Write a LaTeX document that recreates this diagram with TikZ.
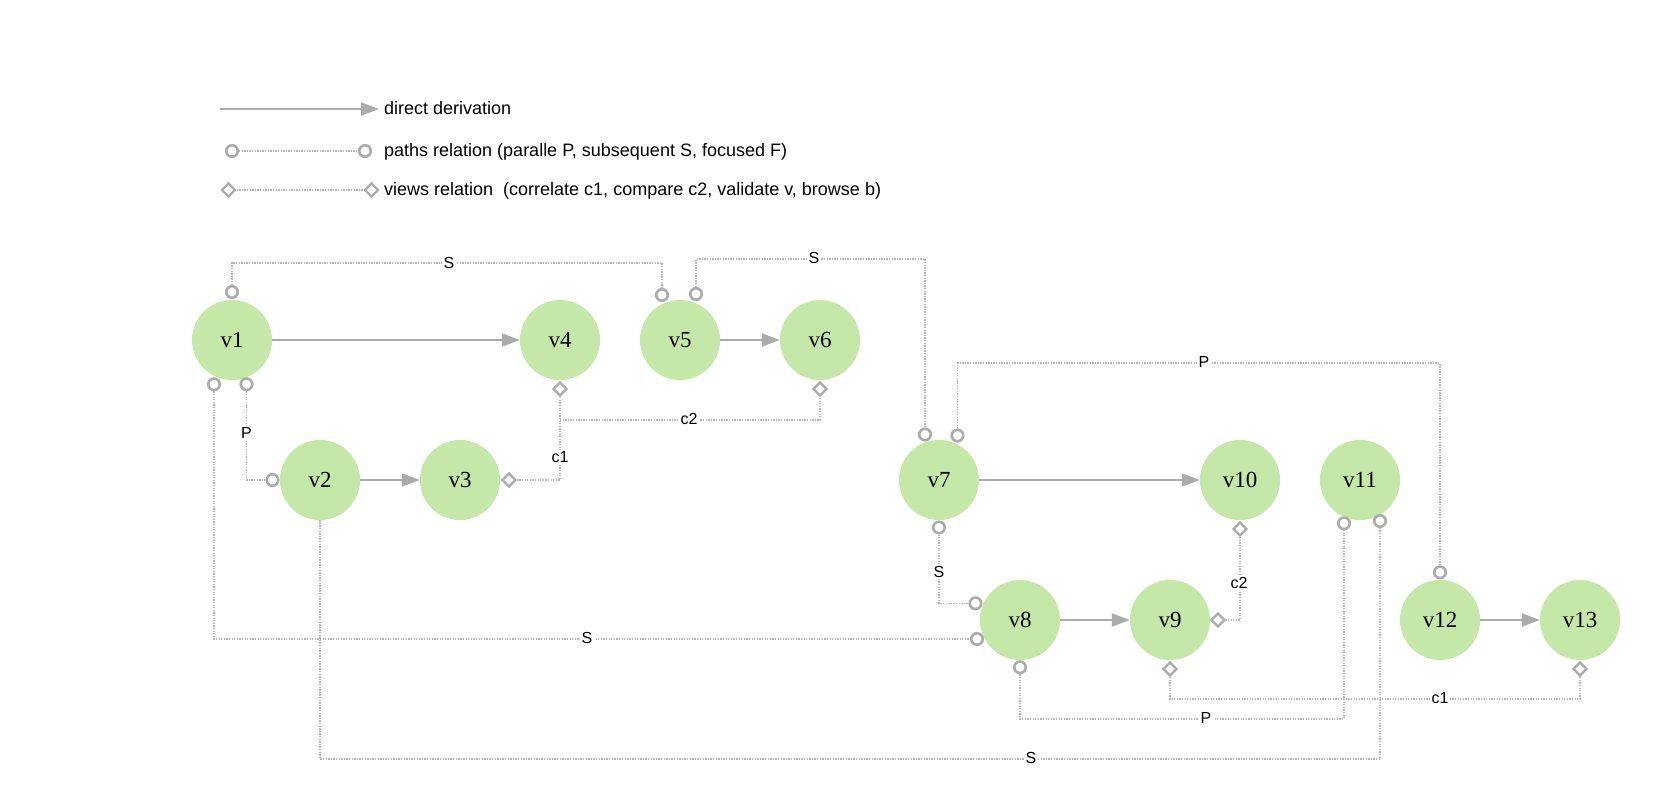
\documentclass[tikz,border=0pt]{standalone}
\usepackage{fontspec}
\setmainfont{Liberation Sans}
\newfontfamily\nodefont{Liberation Serif}
\usetikzlibrary{arrows.meta,shapes.geometric,calc}
\definecolor{vgreen}{HTML}{C5E8A9}
\definecolor{lgray}{HTML}{ABABAB}
\definecolor{dgray}{HTML}{B4B4B4}
\begin{document}
\begin{tikzpicture}[x=1pt,y=-1pt,
 vnode/.style={circle,fill=vgreen,minimum size=80pt,inner sep=0pt,font=\nodefont\fontsize{23}{23}\selectfont},
 deriv/.style={draw=lgray,line width=2pt,-{Triangle[length=18pt,width=13pt]}},
 pc/.style={circle,draw=lgray,fill=white,line width=2.6pt,minimum size=11.5pt,inner sep=0pt},
 dm/.style={diamond,draw=lgray,fill=white,line width=2.3pt,minimum size=14pt,inner sep=0pt},
 rel/.style={draw=dgray,line width=1.3pt,dash pattern=on 1.3pt off 1.3pt},
 lbl/.style={fill=white,inner sep=1.5pt,font=\fontsize{16}{16}\selectfont},
 leg/.style={anchor=base west,inner sep=0pt,font=\fontsize{18}{18}\selectfont}]
\useasboundingbox[fill=white] (0,0) rectangle (1660,811);

% legend
\coordinate (la1) at (220,109);
\coordinate (la2) at (379,109);
\draw[deriv] (la1) -- (la2);
\node[leg] (t1) at (384,114.5) {direct derivation};
\node[pc] (lc1) at (232,151) {};
\node[pc] (lc2) at (365,151) {};
\draw[rel] (lc1) -- (lc2);
\node[leg] (t2) at (384,156.5) {paths relation (paralle P, subsequent S, focused F)};
\node[dm] (ld1) at (228.5,190) {};
\node[dm] (ld2) at (371.5,190) {};
\draw[rel] (ld1) -- (ld2);
\node[leg] (t3) at (384,195.5) {views relation~ (correlate c1, compare c2, validate v, browse b)};

% nodes
\node[vnode] (v1) at (232,340) {v1};
\node[vnode] (v4) at (560,340) {v4};
\node[vnode] (v5) at (680,340) {v5};
\node[vnode] (v6) at (820,340) {v6};
\node[vnode] (v2) at (320,480) {v2};
\node[vnode] (v3) at (460,480) {v3};
\node[vnode] (v7) at (939,480) {v7};
\node[vnode] (v10) at (1240,480) {v10};
\node[vnode] (v11) at (1360,480) {v11};
\node[vnode] (v8) at (1020,620) {v8};
\node[vnode] (v9) at (1170,620) {v9};
\node[vnode] (v12) at (1440,620) {v12};
\node[vnode] (v13) at (1580,620) {v13};

% direct derivations
\draw[deriv] (v1) -- (v4);
\draw[deriv] (v5) -- (v6);
\draw[deriv] (v2) -- (v3);
\draw[deriv] (v7) -- (v10);
\draw[deriv] (v8) -- (v9);
\draw[deriv] (v12) -- (v13);

% level coordinates
\coordinate (yA) at (0,263);
\coordinate (yB) at (0,259);
\coordinate (yC) at (0,363);
\coordinate (yD) at (0,420);
\coordinate (yI) at (0,699);
\coordinate (yJ) at (0,719);
\coordinate (yK) at (0,759);

% markers
\node[pc] (v1t) at ($(v1)+(0,-48)$) {};
\node[pc] (v1bl) at ($(v1)+(-18,44.3)$) {};
\node[pc] (v1br) at ($(v1)+(14.5,44.3)$) {};
\node[pc] (v2l) at ($(v2)+(-47.5,0)$) {};
\node[pc] (v5tl) at ($(v5)+(-18,-45)$) {};
\node[pc] (v5tr) at ($(v5)+(16,-46)$) {};
\node[pc] (v7tl) at ($(v7)+(-14,-45.5)$) {};
\node[pc] (v7tr) at ($(v7)+(18.5,-44.5)$) {};
\node[pc] (v7b) at ($(v7)+(0,47.5)$) {};
\node[pc] (v8tl) at ($(v8)+(-44.5,-16.7)$) {};
\node[pc] (v8bl) at ($(v8)+(-43,19)$) {};
\node[pc] (v8b) at ($(v8)+(0,47.3)$) {};
\node[pc] (v11bl) at ($(v11)+(-16,43.3)$) {};
\node[pc] (v11br) at ($(v11)+(20,41)$) {};
\node[pc] (v12t) at ($(v12)+(0,-47.7)$) {};
\node[dm] (v3r) at ($(v3)+(49,0)$) {};
\node[dm] (v4b) at ($(v4)+(0,49)$) {};
\node[dm] (v6b) at ($(v6)+(0,49)$) {};
\node[dm] (v9r) at ($(v9)+(48,0)$) {};
\node[dm] (v9b) at ($(v9)+(0,49)$) {};
\node[dm] (v10b) at ($(v10)+(0,49)$) {};
\node[dm] (v13b) at ($(v13)+(0,49)$) {};

% relations
\draw[rel] (v1t) -- (v1t |- yA) -- (v5tl |- yA) -- (v5tl) node[lbl] at (449,263) {S};
\draw[rel] (v5tr) -- (v5tr |- yB) -- (v7tl |- yB) -- (v7tl) node[lbl] at (814,258) {S};
\draw[rel] (v7tr) -- (v7tr |- yC) -- (v12t |- yC) -- (v12t) node[lbl] at (1204,362) {P};
\draw[rel] (v1br) -- (v1br |- v2l) -- (v2l) node[lbl] at (246.5,433) {P};
\draw[rel] (v4b) -- (v4b |- v3r) -- (v3r) node[lbl] at (560,457) {c1};
\draw[rel] (v4b |- yD) -- (v6b |- yD) -- (v6b) node[lbl] at (689,419) {c2};
\draw[rel] (v1bl) -- (v1bl |- v8bl) -- (v8bl) node[lbl] at (587,638) {S};
\draw[rel] (v7b) -- (v7b |- v8tl) -- (v8tl) node[lbl] at (939,572) {S};
\draw[rel] (v10b) -- (v10b |- v9r) -- (v9r) node[lbl] at (1239,583) {c2};
\draw[rel] (v8b) -- (v8b |- yJ) -- (v11bl |- yJ) -- (v11bl) node[lbl] at (1206,718) {P};
\draw[rel] (v9b) -- (v9b |- yI) -- (v13b |- yI) -- (v13b) node[lbl] at (1440,698) {c1};
\draw[rel] (v2.south) -- (v2 |- yK) -- (v11br |- yK) -- (v11br) node[lbl] at (1031,758) {S};
\end{tikzpicture}
\end{document}
